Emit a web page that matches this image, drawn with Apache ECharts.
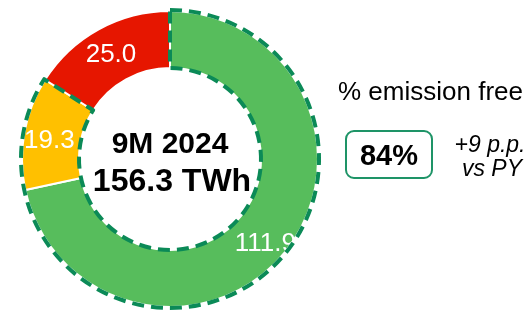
<!DOCTYPE html>
<html>
<head>
<meta charset="utf-8">
<script src="https://cdn.jsdelivr.net/npm/echarts@6/dist/echarts.min.js"></script>
<style>
html,body{margin:0;padding:0;background:#fff;}
#chart{width:529px;height:313px;}
</style>
</head>
<body>
<div id="chart"></div>
<script>
var segmentNames = ['Emission-free A', 'Emission-free B', 'Other'];
var segmentValues = [111.9, 19.3, 25.0];
var segmentColors = ['#57BD5C', '#FFC000', '#E61600'];
var centerLines = ['9M 2024', '156.3 TWh'];
var sideTitle = '% emission free';
var shareText = '84%';
var deltaLines = ['+9 p.p.', 'vs PY'];

var FONT = 'Liberation Sans';
var emissionFree = segmentValues[0] + segmentValues[1];

function txt(x, y, text, size, weight, style, align) {
  return {type: 'text', x: x, y: y, z: 10, style: {
    text: text, fontSize: size, fontWeight: weight || 'normal', fontStyle: style || 'normal',
    fontFamily: FONT, fill: '#000', align: align || 'center', verticalAlign: 'middle'}};
}

var chart = echarts.init(document.getElementById('chart'), null, {renderer: 'canvas'});
chart.setOption({
  animation: false,
  backgroundColor: '#ffffff',
  series: [
    {
      type: 'pie',
      center: [170, 159],
      radius: [91, 148],
      startAngle: 90,
      clockwise: true,
      avoidLabelOverlap: false,
      silent: true,
      itemStyle: {borderColor: '#ffffff', borderWidth: 2},
      label: {
        show: true,
        position: 'inside',
        color: '#ffffff',
        fontFamily: FONT,
        fontSize: 26,
        formatter: function (p) { return p.value.toFixed(1); }
      },
      labelLine: {show: false},
      labelLayout: function (p) { return {dy: p.dataIndex === 0 ? 8 : 3}; },
      emphasis: {disabled: true},
      data: segmentNames.map(function (n, i) {
        return {name: n, value: segmentValues[i], itemStyle: {color: segmentColors[i]}};
      })
    },
    {
      type: 'pie',
      center: [170, 159],
      radius: [91, 149],
      startAngle: 90,
      clockwise: true,
      silent: true,
      z: 5,
      label: {show: false},
      labelLine: {show: false},
      emphasis: {disabled: true},
      data: [
        {name: 'emission free', value: emissionFree,
         itemStyle: {color: 'rgba(0,0,0,0)', borderColor: '#0B8A57', borderWidth: 4, borderType: [12, 7]}},
        {name: 'rest', value: segmentValues[2],
         itemStyle: {color: 'rgba(0,0,0,0)', borderWidth: 0}}
      ]
    }
  ],
  graphic: [
    txt(170, 145, centerLines[0], 30, 'bold'),
    txt(172, 182, centerLines[1], 32, 'bold'),
    txt(338, 93, sideTitle, 26, 'normal', 'normal', 'left'),
    {type: 'rect', z: 9, shape: {x: 346, y: 131, width: 86, height: 47, r: 8}, style: {fill: '#fff', stroke: '#1E9467', lineWidth: 2}},
    txt(389, 157, shareText, 29, 'bold'),
    txt(490, 146, deltaLines[0], 23, 'normal', 'italic'),
    txt(492, 170, deltaLines[1], 23, 'normal', 'italic')
  ]
});
</script>
</body>
</html>
